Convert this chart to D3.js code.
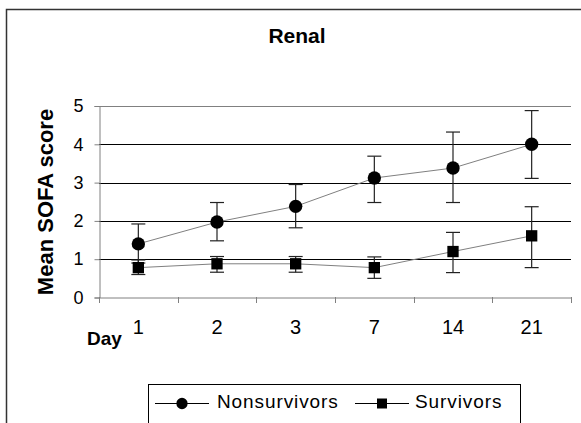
<!DOCTYPE html>
<html>
<head>
<meta charset="utf-8">
<script src="https://cdn.jsdelivr.net/npm/d3@7"></script>
<style>
  body { margin: 0; background: #fff; }
  svg { font-family: "Liberation Sans", Arial, sans-serif; }
</style>
</head>
<body>
<div id="chart"></div>
<script>
// Dữ liệu
const days = ["1", "2", "3", "7", "14", "21"];
const nonsurvivors = [1.4, 1.97, 2.38, 3.12, 3.38, 4.0];
const nonsurvivorsLow = [0.9, 1.48, 1.82, 2.48, 2.48, 3.11];
const nonsurvivorsHigh = [1.92, 2.48, 2.95, 3.69, 4.32, 4.88];
const survivors = [0.78, 0.88, 0.88, 0.78, 1.2, 1.61];
const survivorsLow = [0.6, 0.66, 0.66, 0.5, 0.65, 0.78];
const survivorsHigh = [0.98, 1.07, 1.07, 1.06, 1.7, 2.37];
const yTicks = [0, 1, 2, 3, 4, 5];

const W = 581, H = 423;
const svg = d3.select("#chart").append("svg")
    .attr("width", W).attr("height", H);

// Khung ngoài
svg.append("rect")
    .attr("x", 6.5).attr("y", 9.5)
    .attr("width", 600).attr("height", 440)
    .attr("fill", "none").attr("stroke", "#333").attr("stroke-width", 1.5);

const x = d3.scaleBand().domain(days).range([99, 571]).padding(0);
const y = d3.scaleLinear().domain([0, 5]).range([297.5, 106]);
const cx = d => x(d) + x.bandwidth() / 2;

// Tiêu đề
svg.append("text")
    .attr("x", 297).attr("y", 43)
    .attr("text-anchor", "middle")
    .style("font-size", "21px").style("font-weight", "bold")
    .text("Renal");

// Lưới ngang
svg.append("g").selectAll("line")
    .data(yTicks.filter(d => d > 0))
    .enter().append("line")
    .attr("x1", 99).attr("x2", 571)
    .attr("y1", d => Math.round(y(d)) + 0.5).attr("y2", d => Math.round(y(d)) + 0.5)
    .attr("stroke", d => d === 5 ? "#808080" : "#000").attr("stroke-width", 1);

// Trục Y
const yAxis = svg.append("g")
    .attr("transform", "translate(99.5,0)")
    .call(d3.axisLeft(y).tickValues(yTicks).tickSize(5).tickPadding(11).tickFormat(d3.format("d")));
yAxis.select(".domain").attr("stroke", "#808080");
yAxis.selectAll(".tick line").attr("stroke", "#808080");
yAxis.selectAll("text").style("font-size", "18px").attr("fill", "#000")
    .attr("font-family", "Liberation Sans, Arial, sans-serif");

// Trục X
const xAxis = svg.append("g")
    .attr("transform", "translate(0,297.5)")
    .call(d3.axisBottom(x).tickSize(0).tickPadding(22));
xAxis.select(".domain").attr("stroke", "#808080");
xAxis.selectAll("text").style("font-size", "20px").attr("fill", "#000")
    .attr("font-family", "Liberation Sans, Arial, sans-serif");
svg.append("g").selectAll("line")
    .data(days.map(d => x(d)).concat([x.range()[1]]))
    .enter().append("line")
    .attr("x1", d => Math.round(d) + 0.5).attr("x2", d => Math.round(d) + 0.5)
    .attr("y1", 297).attr("y2", 303)
    .attr("stroke", "#808080");

svg.append("text")
    .attr("x", 87).attr("y", 345)
    .style("font-size", "19px").style("font-weight", "bold")
    .text("Day");

svg.append("text")
    .attr("transform", "translate(53,202) rotate(-90)")
    .attr("text-anchor", "middle")
    .style("font-size", "22px").style("font-weight", "bold")
    .text("Mean SOFA score");

// Vẽ chuỗi
function drawSeries(vals, lo, hi, shape) {
    const g = svg.append("g");
    g.append("path")
        .datum(vals)
        .attr("fill", "none").attr("stroke", "#808080").attr("stroke-width", 1)
        .attr("d", d3.line().x((d, i) => cx(days[i])).y(d => y(d)));
    days.forEach((d, i) => {
        const px = cx(d);
        g.append("line").attr("x1", px).attr("x2", px)
            .attr("y1", y(lo[i])).attr("y2", y(hi[i]))
            .attr("stroke", "#222").attr("stroke-width", 1.2);
        [lo[i], hi[i]].forEach(v => {
            g.append("line").attr("x1", px - 7).attr("x2", px + 7)
                .attr("y1", y(v)).attr("y2", y(v))
                .attr("stroke", "#222").attr("stroke-width", 1.2);
        });
    });
    g.selectAll(".m").data(vals).enter()
        .append("path")
        .attr("transform", (d, i) => `translate(${cx(days[i])},${y(d)})`)
        .attr("d", d3.symbol().type(shape).size(shape === d3.symbolCircle ? 140 : 128))
        .attr("fill", "#000");
}
drawSeries(nonsurvivors, nonsurvivorsLow, nonsurvivorsHigh, d3.symbolCircle);
drawSeries(survivors, survivorsLow, survivorsHigh, d3.symbolSquare);

// Chú giải
const leg = svg.append("g");
leg.append("rect")
    .attr("x", 148.5).attr("y", 384.5).attr("width", 372).attr("height", 60)
    .attr("fill", "#fff").attr("stroke", "#000");
const items = [
    { name: "Nonsurvivors", shape: d3.symbolCircle, x0: 155, tx: 217 },
    { name: "Survivors", shape: d3.symbolSquare, x0: 355, tx: 415 }
];
items.forEach(it => {
    leg.append("line").attr("x1", it.x0).attr("x2", it.x0 + 54)
        .attr("y1", 403.5).attr("y2", 403.5).attr("stroke", "#000");
    leg.append("path")
        .attr("transform", `translate(${it.x0 + 27},403.5)`)
        .attr("d", d3.symbol().type(it.shape).size(it.shape === d3.symbolCircle ? 100 : 100))
        .attr("fill", "#000");
    leg.append("text").attr("x", it.tx).attr("y", 408)
        .style("font-size", "19px").style("letter-spacing", "0.9px").text(it.name);
});
</script>
</body>
</html>
